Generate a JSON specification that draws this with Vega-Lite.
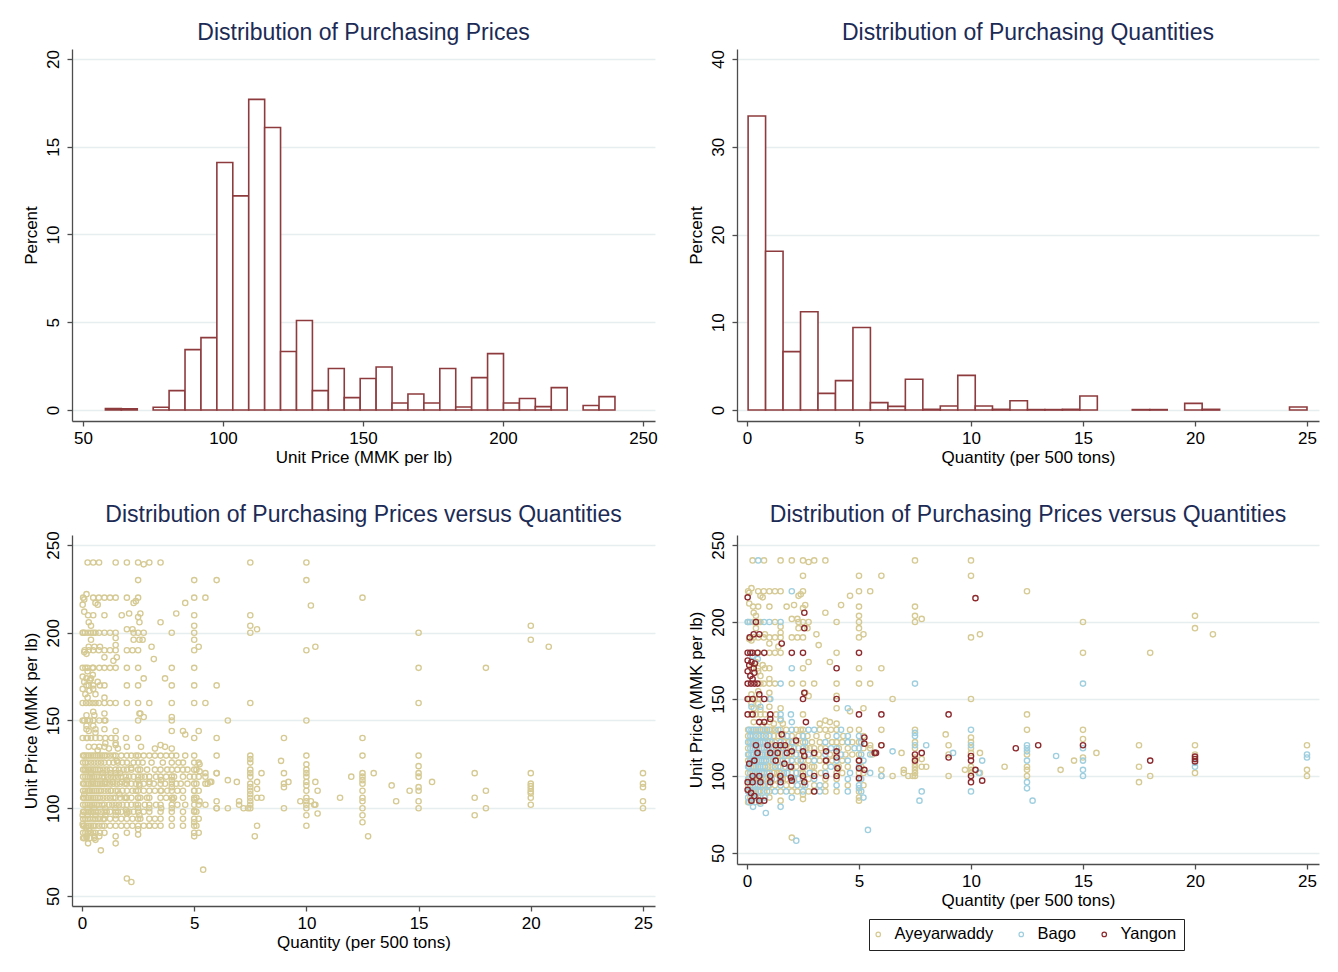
{
"$schema":"https://vega.github.io/schema/vega-lite/v6.json",
"background":"white",
"padding":{"left":22,"top":22,"right":5,"bottom":5},
"datasets":{
"hp":[
{"lo":58.0,"hi":63.69,"pct":0.08},{"lo":63.69,"hi":69.38,"pct":0.06},{"lo":75.06,"hi":80.75,"pct":0.15},{"lo":80.75,"hi":86.44,"pct":1.1},{"lo":86.44,"hi":92.13,"pct":3.44},{"lo":92.13,"hi":97.81,"pct":4.12},{"lo":97.81,"hi":103.5,"pct":14.1},{"lo":103.5,"hi":109.19,"pct":12.2},{"lo":109.19,"hi":114.88,"pct":17.7},{"lo":114.88,"hi":120.56,"pct":16.1},{"lo":120.56,"hi":126.25,"pct":3.33},{"lo":126.25,"hi":131.94,"pct":5.1},{"lo":131.94,"hi":137.63,"pct":1.1},{"lo":137.63,"hi":143.31,"pct":2.36},{"lo":143.31,"hi":149.0,"pct":0.7},{"lo":149.0,"hi":154.69,"pct":1.79},{"lo":154.69,"hi":160.38,"pct":2.45},{"lo":160.38,"hi":166.06,"pct":0.4},{"lo":166.06,"hi":171.75,"pct":0.91},{"lo":171.75,"hi":177.44,"pct":0.4},{"lo":177.44,"hi":183.13,"pct":2.36},{"lo":183.13,"hi":188.81,"pct":0.17},{"lo":188.81,"hi":194.5,"pct":1.84},{"lo":194.5,"hi":200.19,"pct":3.21},{"lo":200.19,"hi":205.88,"pct":0.4},{"lo":205.88,"hi":211.56,"pct":0.65},{"lo":211.56,"hi":217.25,"pct":0.19},{"lo":217.25,"hi":222.94,"pct":1.27},{"lo":228.63,"hi":234.31,"pct":0.25},{"lo":234.31,"hi":240.0,"pct":0.76}
],
"hq":[
{"lo":0.05,"hi":0.83,"pct":33.5},{"lo":0.83,"hi":1.61,"pct":18.1},{"lo":1.61,"hi":2.39,"pct":6.65},{"lo":2.39,"hi":3.17,"pct":11.2},{"lo":3.17,"hi":3.95,"pct":1.9},{"lo":3.95,"hi":4.73,"pct":3.35},{"lo":4.73,"hi":5.51,"pct":9.4},{"lo":5.51,"hi":6.29,"pct":0.84},{"lo":6.29,"hi":7.07,"pct":0.42},{"lo":7.07,"hi":7.85,"pct":3.5},{"lo":7.85,"hi":8.63,"pct":0.08},{"lo":8.63,"hi":9.41,"pct":0.46},{"lo":9.41,"hi":10.19,"pct":3.95},{"lo":10.19,"hi":10.96,"pct":0.46},{"lo":10.96,"hi":11.74,"pct":0.08},{"lo":11.74,"hi":12.52,"pct":1.06},{"lo":12.52,"hi":13.3,"pct":0.05},{"lo":13.3,"hi":14.08,"pct":0.05},{"lo":14.08,"hi":14.86,"pct":0.08},{"lo":14.86,"hi":15.64,"pct":1.6},{"lo":17.2,"hi":17.98,"pct":0.05},{"lo":17.98,"hi":18.76,"pct":0.05},{"lo":19.54,"hi":20.32,"pct":0.76},{"lo":20.32,"hi":21.1,"pct":0.08},{"lo":24.22,"hi":25.0,"pct":0.34}
],
"pts":[
{"q":0.25,"p":240,"r":"Ayeyarwaddy"},{"q":0.76,"p":240,"r":"Ayeyarwaddy"},{"q":1.5,"p":240,"r":"Ayeyarwaddy"},{"q":2.0,"p":240,"r":"Ayeyarwaddy"},{"q":2.5,"p":240,"r":"Ayeyarwaddy"},{"q":2.75,"p":239,"r":"Ayeyarwaddy"},{"q":3.0,"p":240,"r":"Ayeyarwaddy"},{"q":3.5,"p":240,"r":"Ayeyarwaddy"},{"q":7.5,"p":240,"r":"Ayeyarwaddy"},{"q":10,"p":240,"r":"Ayeyarwaddy"},
{"q":2.5,"p":230,"r":"Ayeyarwaddy"},{"q":5,"p":230,"r":"Ayeyarwaddy"},{"q":6,"p":230,"r":"Ayeyarwaddy"},{"q":10,"p":230,"r":"Ayeyarwaddy"},
{"q":0.05,"p":220,"r":"Ayeyarwaddy"},{"q":0.2,"p":222,"r":"Ayeyarwaddy"},{"q":0.1,"p":219,"r":"Ayeyarwaddy"},{"q":0.5,"p":220,"r":"Ayeyarwaddy"},{"q":0.75,"p":220,"r":"Ayeyarwaddy"},{"q":1.0,"p":220,"r":"Ayeyarwaddy"},{"q":1.25,"p":220,"r":"Ayeyarwaddy"},{"q":1.5,"p":220,"r":"Ayeyarwaddy"},{"q":2.5,"p":220,"r":"Ayeyarwaddy"},{"q":2.4,"p":218,"r":"Ayeyarwaddy"},{"q":2.3,"p":217,"r":"Ayeyarwaddy"},{"q":0.6,"p":217,"r":"Ayeyarwaddy"},{"q":0.7,"p":216,"r":"Ayeyarwaddy"},{"q":4.6,"p":217,"r":"Ayeyarwaddy"},{"q":5,"p":220,"r":"Ayeyarwaddy"},{"q":5.5,"p":220,"r":"Ayeyarwaddy"},{"q":12.5,"p":220,"r":"Ayeyarwaddy"},
{"q":0.1,"p":212,"r":"Ayeyarwaddy"},{"q":0.27,"p":210,"r":"Ayeyarwaddy"},{"q":0.5,"p":210,"r":"Ayeyarwaddy"},{"q":1.0,"p":210,"r":"Ayeyarwaddy"},{"q":1.77,"p":210,"r":"Ayeyarwaddy"},{"q":2.1,"p":211,"r":"Ayeyarwaddy"},{"q":2.6,"p":211,"r":"Ayeyarwaddy"},{"q":2.5,"p":209,"r":"Ayeyarwaddy"},{"q":4.2,"p":211,"r":"Ayeyarwaddy"},{"q":5,"p":210,"r":"Ayeyarwaddy"},{"q":7.5,"p":210,"r":"Ayeyarwaddy"},
{"q":0.3,"p":206,"r":"Ayeyarwaddy"},{"q":3.5,"p":206,"r":"Ayeyarwaddy"},{"q":0.4,"p":204,"r":"Ayeyarwaddy"},{"q":5,"p":204,"r":"Ayeyarwaddy"},{"q":7.5,"p":204,"r":"Ayeyarwaddy"},{"q":20,"p":204,"r":"Ayeyarwaddy"},{"q":2.25,"p":202,"r":"Ayeyarwaddy"},{"q":2.0,"p":202,"r":"Ayeyarwaddy"},{"q":7.8,"p":202,"r":"Ayeyarwaddy"},
{"q":0.05,"p":200,"r":"Ayeyarwaddy"},{"q":0.27,"p":200,"r":"Ayeyarwaddy"},{"q":0.5,"p":200,"r":"Ayeyarwaddy"},{"q":0.6,"p":200,"r":"Ayeyarwaddy"},{"q":1.25,"p":200,"r":"Ayeyarwaddy"},{"q":2.3,"p":200,"r":"Ayeyarwaddy"},{"q":2.5,"p":200,"r":"Ayeyarwaddy"},{"q":2.75,"p":200,"r":"Ayeyarwaddy"},{"q":4.0,"p":200,"r":"Ayeyarwaddy"},{"q":5,"p":200,"r":"Ayeyarwaddy"},{"q":7.5,"p":200,"r":"Ayeyarwaddy"},{"q":15,"p":200,"r":"Ayeyarwaddy"},
{"q":0.4,"p":196,"r":"Ayeyarwaddy"},{"q":1.5,"p":197,"r":"Ayeyarwaddy"},{"q":2.3,"p":196,"r":"Ayeyarwaddy"},{"q":2.7,"p":196,"r":"Ayeyarwaddy"},{"q":5,"p":196,"r":"Ayeyarwaddy"},{"q":20,"p":196,"r":"Ayeyarwaddy"},
{"q":0.8,"p":192,"r":"Ayeyarwaddy"},{"q":1.5,"p":193,"r":"Ayeyarwaddy"},{"q":3.1,"p":192,"r":"Ayeyarwaddy"},{"q":5.2,"p":192,"r":"Ayeyarwaddy"},{"q":10.4,"p":192,"r":"Ayeyarwaddy"},{"q":20.8,"p":192,"r":"Ayeyarwaddy"},
{"q":0.1,"p":189,"r":"Ayeyarwaddy"},{"q":0.2,"p":188,"r":"Ayeyarwaddy"},{"q":0.3,"p":190,"r":"Ayeyarwaddy"},{"q":0.5,"p":190,"r":"Ayeyarwaddy"},{"q":0.75,"p":190,"r":"Ayeyarwaddy"},{"q":1.0,"p":190,"r":"Ayeyarwaddy"},{"q":1.25,"p":190,"r":"Ayeyarwaddy"},{"q":1.5,"p":190,"r":"Ayeyarwaddy"},{"q":2.0,"p":190,"r":"Ayeyarwaddy"},{"q":2.25,"p":190,"r":"Ayeyarwaddy"},{"q":2.5,"p":190,"r":"Ayeyarwaddy"},{"q":5,"p":190,"r":"Ayeyarwaddy"},{"q":10,"p":190,"r":"Ayeyarwaddy"},
{"q":1.0,"p":186,"r":"Ayeyarwaddy"},{"q":1.4,"p":184,"r":"Ayeyarwaddy"},{"q":3.2,"p":185,"r":"Ayeyarwaddy"},
{"q":0.5,"p":180,"r":"Ayeyarwaddy"},{"q":1.0,"p":180,"r":"Ayeyarwaddy"},{"q":1.25,"p":180,"r":"Ayeyarwaddy"},{"q":1.5,"p":180,"r":"Ayeyarwaddy"},{"q":4.0,"p":180,"r":"Ayeyarwaddy"},{"q":15,"p":180,"r":"Ayeyarwaddy"},{"q":18,"p":180,"r":"Ayeyarwaddy"},
{"q":0.4,"p":174,"r":"Ayeyarwaddy"},{"q":0.7,"p":172,"r":"Ayeyarwaddy"},{"q":2.75,"p":174,"r":"Ayeyarwaddy"},{"q":3.7,"p":174,"r":"Ayeyarwaddy"},
{"q":0.2,"p":170,"r":"Ayeyarwaddy"},{"q":0.5,"p":170,"r":"Ayeyarwaddy"},{"q":0.8,"p":170,"r":"Ayeyarwaddy"},{"q":1.0,"p":170,"r":"Ayeyarwaddy"},{"q":2.5,"p":170,"r":"Ayeyarwaddy"},{"q":5,"p":170,"r":"Ayeyarwaddy"},{"q":6,"p":170,"r":"Ayeyarwaddy"},
{"q":0.5,"p":168,"r":"Ayeyarwaddy"},{"q":0.6,"p":165,"r":"Ayeyarwaddy"},{"q":1.0,"p":163,"r":"Ayeyarwaddy"},
{"q":0.6,"p":160,"r":"Ayeyarwaddy"},{"q":0.75,"p":160,"r":"Ayeyarwaddy"},{"q":1.0,"p":160,"r":"Ayeyarwaddy"},{"q":1.25,"p":160,"r":"Ayeyarwaddy"},{"q":2.0,"p":160,"r":"Ayeyarwaddy"},{"q":2.5,"p":160,"r":"Ayeyarwaddy"},{"q":3.0,"p":160,"r":"Ayeyarwaddy"},{"q":4.0,"p":160,"r":"Ayeyarwaddy"},{"q":5,"p":160,"r":"Ayeyarwaddy"},{"q":5.5,"p":160,"r":"Ayeyarwaddy"},
{"q":0.2,"p":153,"r":"Ayeyarwaddy"},{"q":0.5,"p":155,"r":"Ayeyarwaddy"},{"q":1.0,"p":154,"r":"Ayeyarwaddy"},{"q":2.6,"p":154,"r":"Ayeyarwaddy"},{"q":2.75,"p":152,"r":"Ayeyarwaddy"},{"q":4.0,"p":152,"r":"Ayeyarwaddy"},
{"q":0.1,"p":150,"r":"Ayeyarwaddy"},{"q":0.35,"p":150,"r":"Ayeyarwaddy"},{"q":0.5,"p":150,"r":"Ayeyarwaddy"},{"q":1.0,"p":150,"r":"Ayeyarwaddy"},{"q":6.5,"p":150,"r":"Ayeyarwaddy"},{"q":10,"p":150,"r":"Ayeyarwaddy"},{"q":0.2,"p":147,"r":"Ayeyarwaddy"},{"q":0.5,"p":147,"r":"Ayeyarwaddy"},
{"q":0.3,"p":144,"r":"Ayeyarwaddy"},{"q":0.6,"p":143,"r":"Ayeyarwaddy"},{"q":1.0,"p":145,"r":"Ayeyarwaddy"},{"q":1.5,"p":144,"r":"Ayeyarwaddy"},{"q":4.0,"p":144,"r":"Ayeyarwaddy"},{"q":4.6,"p":142,"r":"Ayeyarwaddy"},{"q":5.2,"p":144,"r":"Ayeyarwaddy"},
{"q":0.2,"p":140,"r":"Ayeyarwaddy"},{"q":0.4,"p":140,"r":"Ayeyarwaddy"},{"q":0.6,"p":140,"r":"Ayeyarwaddy"},{"q":0.8,"p":140,"r":"Ayeyarwaddy"},{"q":1.3,"p":140,"r":"Ayeyarwaddy"},{"q":2.5,"p":140,"r":"Ayeyarwaddy"},{"q":12.5,"p":140,"r":"Ayeyarwaddy"},
{"q":0.3,"p":135,"r":"Ayeyarwaddy"},{"q":0.7,"p":133,"r":"Ayeyarwaddy"},{"q":1.0,"p":135,"r":"Ayeyarwaddy"},{"q":1.2,"p":134,"r":"Ayeyarwaddy"},{"q":1.6,"p":134,"r":"Ayeyarwaddy"},{"q":1.5,"p":136,"r":"Ayeyarwaddy"},{"q":3.25,"p":134,"r":"Ayeyarwaddy"},{"q":3.5,"p":136,"r":"Ayeyarwaddy"},{"q":3.7,"p":135,"r":"Ayeyarwaddy"},{"q":4.0,"p":134,"r":"Ayeyarwaddy"},
{"q":5.5,"p":120,"r":"Ayeyarwaddy"},{"q":5.6,"p":114,"r":"Ayeyarwaddy"},{"q":6,"p":130,"r":"Ayeyarwaddy"},{"q":6,"p":120,"r":"Ayeyarwaddy"},{"q":6,"p":104,"r":"Ayeyarwaddy"},{"q":6,"p":100,"r":"Ayeyarwaddy"},{"q":6.5,"p":100,"r":"Ayeyarwaddy"},{"q":6.9,"p":115,"r":"Ayeyarwaddy"},{"q":7,"p":104,"r":"Ayeyarwaddy"},{"q":7,"p":102,"r":"Ayeyarwaddy"},{"q":7.2,"p":100,"r":"Ayeyarwaddy"},{"q":7.4,"p":100,"r":"Ayeyarwaddy"},{"q":7.5,"p":130,"r":"Ayeyarwaddy"},{"q":7.5,"p":122,"r":"Ayeyarwaddy"},{"q":7.5,"p":118,"r":"Ayeyarwaddy"},{"q":7.5,"p":112,"r":"Ayeyarwaddy"},{"q":7.5,"p":108,"r":"Ayeyarwaddy"},{"q":7.5,"p":106,"r":"Ayeyarwaddy"},{"q":7.5,"p":104,"r":"Ayeyarwaddy"},{"q":7.5,"p":102,"r":"Ayeyarwaddy"},{"q":7.5,"p":100,"r":"Ayeyarwaddy"},{"q":7.8,"p":106,"r":"Ayeyarwaddy"},{"q":8.0,"p":106,"r":"Ayeyarwaddy"},{"q":7.8,"p":111,"r":"Ayeyarwaddy"},{"q":8.87,"p":127,"r":"Ayeyarwaddy"},{"q":9,"p":120,"r":"Ayeyarwaddy"},{"q":9,"p":114,"r":"Ayeyarwaddy"},{"q":9,"p":100,"r":"Ayeyarwaddy"},{"q":9.73,"p":104,"r":"Ayeyarwaddy"},{"q":10,"p":125,"r":"Ayeyarwaddy"},{"q":10,"p":122,"r":"Ayeyarwaddy"},{"q":10,"p":118,"r":"Ayeyarwaddy"},{"q":10,"p":115,"r":"Ayeyarwaddy"},{"q":10,"p":106,"r":"Ayeyarwaddy"},{"q":10,"p":104,"r":"Ayeyarwaddy"},{"q":10,"p":102,"r":"Ayeyarwaddy"},{"q":10.4,"p":115,"r":"Ayeyarwaddy"},{"q":10.4,"p":102,"r":"Ayeyarwaddy"},{"q":11.5,"p":106,"r":"Ayeyarwaddy"},{"q":12.5,"p":130,"r":"Ayeyarwaddy"},{"q":12.5,"p":114,"r":"Ayeyarwaddy"},{"q":12.5,"p":106,"r":"Ayeyarwaddy"},{"q":12.5,"p":104,"r":"Ayeyarwaddy"},{"q":12.5,"p":100,"r":"Ayeyarwaddy"},{"q":14,"p":104,"r":"Ayeyarwaddy"},{"q":14.6,"p":110,"r":"Ayeyarwaddy"},{"q":15,"p":130,"r":"Ayeyarwaddy"},{"q":15,"p":124,"r":"Ayeyarwaddy"},{"q":15,"p":112,"r":"Ayeyarwaddy"},{"q":15.6,"p":115,"r":"Ayeyarwaddy"},{"q":17.5,"p":120,"r":"Ayeyarwaddy"},{"q":17.5,"p":106,"r":"Ayeyarwaddy"},{"q":17.5,"p":96,"r":"Ayeyarwaddy"},{"q":18,"p":100,"r":"Ayeyarwaddy"},{"q":20,"p":120,"r":"Ayeyarwaddy"},{"q":20,"p":114,"r":"Ayeyarwaddy"},{"q":20,"p":102,"r":"Ayeyarwaddy"},{"q":25,"p":120,"r":"Ayeyarwaddy"},{"q":25,"p":104,"r":"Ayeyarwaddy"},{"q":25,"p":100,"r":"Ayeyarwaddy"},
{"q":2.0,"p":60,"r":"Ayeyarwaddy"},{"q":1.5,"p":84,"r":"Ayeyarwaddy"},{"q":2.5,"p":85,"r":"Ayeyarwaddy"},{"q":2.5,"p":88,"r":"Ayeyarwaddy"},{"q":4.0,"p":90,"r":"Ayeyarwaddy"},{"q":5.0,"p":84,"r":"Ayeyarwaddy"},
{"q":0.5,"p":240,"r":"Bago"},{"q":2.0,"p":220,"r":"Bago"},{"q":0.03,"p":200,"r":"Bago"},{"q":0.13,"p":200,"r":"Bago"},{"q":0.76,"p":200,"r":"Bago"},{"q":1.0,"p":200,"r":"Bago"},{"q":1.5,"p":200,"r":"Bago"},{"q":0.25,"p":178,"r":"Bago"},{"q":0.48,"p":176,"r":"Bago"},{"q":2.0,"p":170,"r":"Bago"},{"q":1.5,"p":160,"r":"Bago"},{"q":1.04,"p":150,"r":"Bago"},{"q":0.2,"p":145,"r":"Bago"},{"q":0.6,"p":145,"r":"Bago"},{"q":1.5,"p":140,"r":"Bago"},{"q":1.96,"p":140,"r":"Bago"},{"q":1.5,"p":137,"r":"Bago"},{"q":2.0,"p":135,"r":"Bago"},{"q":4.5,"p":144,"r":"Bago"},
{"q":5.5,"p":114,"r":"Bago"},{"q":5.5,"p":102,"r":"Bago"},{"q":6.0,"p":100,"r":"Bago"},{"q":6.5,"p":116,"r":"Bago"},{"q":7.5,"p":128,"r":"Bago"},{"q":7.5,"p":126,"r":"Bago"},{"q":7.5,"p":120,"r":"Bago"},{"q":7.5,"p":160,"r":"Bago"},{"q":8.0,"p":120,"r":"Bago"},{"q":7.8,"p":90,"r":"Bago"},{"q":7.7,"p":84,"r":"Bago"},{"q":9.2,"p":115,"r":"Bago"},{"q":10,"p":130,"r":"Bago"},{"q":10,"p":120,"r":"Bago"},{"q":10,"p":90,"r":"Bago"},{"q":10.5,"p":110,"r":"Bago"},{"q":10.35,"p":102,"r":"Bago"},{"q":12.5,"p":120,"r":"Bago"},{"q":12.5,"p":118,"r":"Bago"},{"q":12.5,"p":116,"r":"Bago"},{"q":12.5,"p":110,"r":"Bago"},{"q":12.5,"p":96,"r":"Bago"},{"q":12.5,"p":92,"r":"Bago"},{"q":12.75,"p":84,"r":"Bago"},{"q":13.8,"p":113,"r":"Bago"},{"q":15,"p":160,"r":"Bago"},{"q":15,"p":118,"r":"Bago"},{"q":15,"p":110,"r":"Bago"},{"q":15,"p":104,"r":"Bago"},{"q":15,"p":100,"r":"Bago"},{"q":20,"p":108.5,"r":"Bago"},{"q":20,"p":106,"r":"Bago"},{"q":25,"p":114,"r":"Bago"},{"q":25,"p":112,"r":"Bago"},{"q":5.4,"p":65,"r":"Bago"},{"q":2.2,"p":58,"r":"Bago"},{"q":5.0,"p":92,"r":"Bago"},{"q":5.2,"p":86,"r":"Bago"},{"q":0.84,"p":76,"r":"Bago"},{"q":0.27,"p":80,"r":"Bago"},{"q":1.5,"p":80,"r":"Bago"},{"q":0.6,"p":82,"r":"Bago"},{"q":0.1,"p":83,"r":"Bago"},
{"q":0.05,"p":130,"r":"Ayeyarwaddy"},{"q":0.1,"p":130,"r":"Bago"},{"q":0.2,"p":130,"r":"Bago"},{"q":0.3,"p":130,"r":"Ayeyarwaddy"},{"q":0.4,"p":130,"r":"Bago"},{"q":0.5,"p":130,"r":"Ayeyarwaddy"},{"q":0.6,"p":130,"r":"Bago"},{"q":0.7,"p":130,"r":"Ayeyarwaddy"},{"q":0.8,"p":130,"r":"Ayeyarwaddy"},{"q":0.9,"p":130,"r":"Bago"},{"q":1.0,"p":130,"r":"Ayeyarwaddy"},{"q":1.1,"p":130,"r":"Ayeyarwaddy"},{"q":1.25,"p":130,"r":"Ayeyarwaddy"},{"q":1.4,"p":130,"r":"Bago"},{"q":1.5,"p":130,"r":"Ayeyarwaddy"},{"q":1.75,"p":130,"r":"Ayeyarwaddy"},{"q":2.0,"p":130,"r":"Bago"},{"q":2.2,"p":130,"r":"Ayeyarwaddy"},{"q":2.4,"p":130,"r":"Ayeyarwaddy"},{"q":2.5,"p":130,"r":"Ayeyarwaddy"},{"q":2.75,"p":130,"r":"Bago"},{"q":3.0,"p":130,"r":"Bago"},{"q":3.25,"p":130,"r":"Ayeyarwaddy"},{"q":3.5,"p":130,"r":"Ayeyarwaddy"},{"q":3.75,"p":130,"r":"Ayeyarwaddy"},{"q":4.0,"p":130,"r":"Ayeyarwaddy"},{"q":4.2,"p":130,"r":"Bago"},{"q":4.6,"p":130,"r":"Ayeyarwaddy"},{"q":5.0,"p":130,"r":"Ayeyarwaddy"},
{"q":0.05,"p":126,"r":"Ayeyarwaddy"},{"q":0.15,"p":126,"r":"Bago"},{"q":0.25,"p":126,"r":"Bago"},{"q":0.4,"p":126,"r":"Ayeyarwaddy"},{"q":0.55,"p":126,"r":"Bago"},{"q":0.7,"p":126,"r":"Bago"},{"q":0.85,"p":126,"r":"Ayeyarwaddy"},{"q":1.0,"p":126,"r":"Bago"},{"q":1.2,"p":126,"r":"Ayeyarwaddy"},{"q":1.4,"p":126,"r":"Ayeyarwaddy"},{"q":1.6,"p":126,"r":"Ayeyarwaddy"},{"q":1.8,"p":126,"r":"Bago"},{"q":2.0,"p":126,"r":"Ayeyarwaddy"},{"q":2.3,"p":126,"r":"Ayeyarwaddy"},{"q":2.5,"p":126,"r":"Bago"},{"q":2.7,"p":126,"r":"Ayeyarwaddy"},{"q":3.1,"p":126,"r":"Ayeyarwaddy"},{"q":3.6,"p":126,"r":"Ayeyarwaddy"},{"q":4.0,"p":126,"r":"Bago"},{"q":4.3,"p":126,"r":"Ayeyarwaddy"},{"q":4.5,"p":126,"r":"Bago"},{"q":5.0,"p":126,"r":"Bago"},{"q":5.2,"p":126,"r":"Ayeyarwaddy"},
{"q":0.05,"p":122,"r":"Bago"},{"q":0.12,"p":122,"r":"Ayeyarwaddy"},{"q":0.2,"p":122,"r":"Bago"},{"q":0.3,"p":122,"r":"Bago"},{"q":0.4,"p":122,"r":"Bago"},{"q":0.5,"p":122,"r":"Bago"},{"q":0.6,"p":122,"r":"Ayeyarwaddy"},{"q":0.7,"p":122,"r":"Bago"},{"q":0.8,"p":122,"r":"Bago"},{"q":0.95,"p":122,"r":"Ayeyarwaddy"},{"q":1.1,"p":122,"r":"Bago"},{"q":1.25,"p":122,"r":"Ayeyarwaddy"},{"q":1.5,"p":122,"r":"Bago"},{"q":1.65,"p":122,"r":"Ayeyarwaddy"},{"q":1.85,"p":122,"r":"Ayeyarwaddy"},{"q":2.0,"p":122,"r":"Bago"},{"q":2.2,"p":122,"r":"Ayeyarwaddy"},{"q":2.5,"p":122,"r":"Ayeyarwaddy"},{"q":2.6,"p":122,"r":"Bago"},{"q":2.9,"p":122,"r":"Ayeyarwaddy"},{"q":3.25,"p":122,"r":"Ayeyarwaddy"},{"q":3.5,"p":122,"r":"Bago"},{"q":3.8,"p":122,"r":"Ayeyarwaddy"},{"q":4.0,"p":122,"r":"Ayeyarwaddy"},{"q":4.25,"p":122,"r":"Ayeyarwaddy"},{"q":4.5,"p":122,"r":"Bago"},{"q":4.7,"p":122,"r":"Ayeyarwaddy"},{"q":5.0,"p":122,"r":"Ayeyarwaddy"},{"q":5.1,"p":122,"r":"Bago"},
{"q":0.05,"p":118,"r":"Ayeyarwaddy"},{"q":0.15,"p":118,"r":"Bago"},{"q":0.25,"p":118,"r":"Bago"},{"q":0.35,"p":118,"r":"Bago"},{"q":0.45,"p":118,"r":"Ayeyarwaddy"},{"q":0.55,"p":118,"r":"Bago"},{"q":0.65,"p":118,"r":"Bago"},{"q":0.75,"p":118,"r":"Ayeyarwaddy"},{"q":0.9,"p":118,"r":"Bago"},{"q":1.0,"p":118,"r":"Bago"},{"q":1.15,"p":118,"r":"Ayeyarwaddy"},{"q":1.3,"p":118,"r":"Bago"},{"q":1.45,"p":118,"r":"Ayeyarwaddy"},{"q":1.6,"p":118,"r":"Bago"},{"q":1.75,"p":118,"r":"Ayeyarwaddy"},{"q":1.95,"p":118,"r":"Ayeyarwaddy"},{"q":2.1,"p":118,"r":"Bago"},{"q":2.3,"p":118,"r":"Ayeyarwaddy"},{"q":2.5,"p":118,"r":"Bago"},{"q":2.65,"p":118,"r":"Ayeyarwaddy"},{"q":2.8,"p":118,"r":"Ayeyarwaddy"},{"q":3.0,"p":118,"r":"Ayeyarwaddy"},{"q":3.3,"p":118,"r":"Ayeyarwaddy"},{"q":3.5,"p":118,"r":"Ayeyarwaddy"},{"q":3.75,"p":118,"r":"Bago"},{"q":4.0,"p":118,"r":"Bago"},{"q":4.1,"p":118,"r":"Ayeyarwaddy"},{"q":4.5,"p":118,"r":"Ayeyarwaddy"},{"q":4.8,"p":118,"r":"Bago"},{"q":5.0,"p":118,"r":"Bago"},{"q":5.2,"p":118,"r":"Ayeyarwaddy"},{"q":5.5,"p":118,"r":"Ayeyarwaddy"},
{"q":0.05,"p":114,"r":"Bago"},{"q":0.1,"p":114,"r":"Ayeyarwaddy"},{"q":0.2,"p":114,"r":"Bago"},{"q":0.3,"p":114,"r":"Bago"},{"q":0.4,"p":114,"r":"Bago"},{"q":0.5,"p":114,"r":"Ayeyarwaddy"},{"q":0.6,"p":114,"r":"Bago"},{"q":0.7,"p":114,"r":"Bago"},{"q":0.8,"p":114,"r":"Ayeyarwaddy"},{"q":0.9,"p":114,"r":"Bago"},{"q":1.0,"p":114,"r":"Ayeyarwaddy"},{"q":1.1,"p":114,"r":"Bago"},{"q":1.25,"p":114,"r":"Bago"},{"q":1.4,"p":114,"r":"Ayeyarwaddy"},{"q":1.55,"p":114,"r":"Ayeyarwaddy"},{"q":1.7,"p":114,"r":"Bago"},{"q":1.9,"p":114,"r":"Ayeyarwaddy"},{"q":2.0,"p":114,"r":"Ayeyarwaddy"},{"q":2.2,"p":114,"r":"Bago"},{"q":2.4,"p":114,"r":"Ayeyarwaddy"},{"q":2.55,"p":114,"r":"Ayeyarwaddy"},{"q":2.75,"p":114,"r":"Bago"},{"q":3.0,"p":114,"r":"Ayeyarwaddy"},{"q":3.2,"p":114,"r":"Ayeyarwaddy"},{"q":3.5,"p":114,"r":"Bago"},{"q":3.7,"p":114,"r":"Ayeyarwaddy"},{"q":4.0,"p":114,"r":"Ayeyarwaddy"},{"q":4.2,"p":114,"r":"Bago"},{"q":4.4,"p":114,"r":"Ayeyarwaddy"},{"q":4.7,"p":114,"r":"Ayeyarwaddy"},{"q":5.0,"p":114,"r":"Ayeyarwaddy"},{"q":5.1,"p":114,"r":"Bago"},
{"q":0.05,"p":110,"r":"Ayeyarwaddy"},{"q":0.15,"p":110,"r":"Bago"},{"q":0.25,"p":110,"r":"Bago"},{"q":0.35,"p":110,"r":"Ayeyarwaddy"},{"q":0.45,"p":110,"r":"Bago"},{"q":0.55,"p":110,"r":"Bago"},{"q":0.65,"p":110,"r":"Ayeyarwaddy"},{"q":0.75,"p":110,"r":"Bago"},{"q":0.85,"p":110,"r":"Bago"},{"q":1.0,"p":110,"r":"Ayeyarwaddy"},{"q":1.15,"p":110,"r":"Bago"},{"q":1.3,"p":110,"r":"Ayeyarwaddy"},{"q":1.5,"p":110,"r":"Ayeyarwaddy"},{"q":1.6,"p":110,"r":"Bago"},{"q":1.8,"p":110,"r":"Ayeyarwaddy"},{"q":2.0,"p":110,"r":"Bago"},{"q":2.25,"p":110,"r":"Ayeyarwaddy"},{"q":2.4,"p":110,"r":"Bago"},{"q":2.5,"p":110,"r":"Ayeyarwaddy"},{"q":2.75,"p":110,"r":"Ayeyarwaddy"},{"q":3.0,"p":110,"r":"Bago"},{"q":3.25,"p":110,"r":"Ayeyarwaddy"},{"q":3.5,"p":110,"r":"Ayeyarwaddy"},{"q":3.8,"p":110,"r":"Ayeyarwaddy"},{"q":4.0,"p":110,"r":"Bago"},{"q":4.25,"p":110,"r":"Ayeyarwaddy"},{"q":4.5,"p":110,"r":"Bago"},{"q":5.0,"p":110,"r":"Ayeyarwaddy"},{"q":5.2,"p":110,"r":"Bago"},
{"q":0.05,"p":106,"r":"Bago"},{"q":0.1,"p":106,"r":"Bago"},{"q":0.2,"p":106,"r":"Ayeyarwaddy"},{"q":0.3,"p":106,"r":"Bago"},{"q":0.4,"p":106,"r":"Ayeyarwaddy"},{"q":0.5,"p":106,"r":"Bago"},{"q":0.6,"p":106,"r":"Bago"},{"q":0.7,"p":106,"r":"Ayeyarwaddy"},{"q":0.8,"p":106,"r":"Bago"},{"q":0.95,"p":106,"r":"Ayeyarwaddy"},{"q":1.1,"p":106,"r":"Ayeyarwaddy"},{"q":1.25,"p":106,"r":"Bago"},{"q":1.4,"p":106,"r":"Ayeyarwaddy"},{"q":1.5,"p":106,"r":"Bago"},{"q":1.7,"p":106,"r":"Ayeyarwaddy"},{"q":1.9,"p":106,"r":"Bago"},{"q":2.0,"p":106,"r":"Ayeyarwaddy"},{"q":2.2,"p":106,"r":"Ayeyarwaddy"},{"q":2.5,"p":106,"r":"Bago"},{"q":2.6,"p":106,"r":"Ayeyarwaddy"},{"q":2.9,"p":106,"r":"Ayeyarwaddy"},{"q":3.0,"p":106,"r":"Ayeyarwaddy"},{"q":3.5,"p":106,"r":"Ayeyarwaddy"},{"q":3.75,"p":106,"r":"Bago"},{"q":4.0,"p":106,"r":"Ayeyarwaddy"},{"q":4.1,"p":106,"r":"Ayeyarwaddy"},{"q":4.5,"p":106,"r":"Ayeyarwaddy"},{"q":5.0,"p":106,"r":"Bago"},{"q":5.1,"p":106,"r":"Ayeyarwaddy"},
{"q":0.05,"p":102,"r":"Ayeyarwaddy"},{"q":0.15,"p":102,"r":"Bago"},{"q":0.25,"p":102,"r":"Ayeyarwaddy"},{"q":0.35,"p":102,"r":"Bago"},{"q":0.45,"p":102,"r":"Bago"},{"q":0.55,"p":102,"r":"Ayeyarwaddy"},{"q":0.65,"p":102,"r":"Bago"},{"q":0.75,"p":102,"r":"Bago"},{"q":0.9,"p":102,"r":"Ayeyarwaddy"},{"q":1.0,"p":102,"r":"Bago"},{"q":1.2,"p":102,"r":"Ayeyarwaddy"},{"q":1.35,"p":102,"r":"Ayeyarwaddy"},{"q":1.5,"p":102,"r":"Ayeyarwaddy"},{"q":1.65,"p":102,"r":"Bago"},{"q":1.8,"p":102,"r":"Bago"},{"q":2.0,"p":102,"r":"Ayeyarwaddy"},{"q":2.2,"p":102,"r":"Bago"},{"q":2.4,"p":102,"r":"Ayeyarwaddy"},{"q":2.5,"p":102,"r":"Ayeyarwaddy"},{"q":2.8,"p":102,"r":"Bago"},{"q":3.0,"p":102,"r":"Ayeyarwaddy"},{"q":3.3,"p":102,"r":"Ayeyarwaddy"},{"q":3.5,"p":102,"r":"Bago"},{"q":4.0,"p":102,"r":"Ayeyarwaddy"},{"q":4.25,"p":102,"r":"Ayeyarwaddy"},{"q":4.6,"p":102,"r":"Bago"},{"q":5.0,"p":102,"r":"Ayeyarwaddy"},{"q":5.2,"p":102,"r":"Ayeyarwaddy"},
{"q":0.05,"p":98,"r":"Bago"},{"q":0.1,"p":98,"r":"Ayeyarwaddy"},{"q":0.2,"p":98,"r":"Bago"},{"q":0.3,"p":98,"r":"Ayeyarwaddy"},{"q":0.4,"p":98,"r":"Bago"},{"q":0.5,"p":98,"r":"Ayeyarwaddy"},{"q":0.6,"p":98,"r":"Ayeyarwaddy"},{"q":0.7,"p":98,"r":"Bago"},{"q":0.85,"p":98,"r":"Ayeyarwaddy"},{"q":1.0,"p":98,"r":"Ayeyarwaddy"},{"q":1.1,"p":98,"r":"Bago"},{"q":1.25,"p":98,"r":"Ayeyarwaddy"},{"q":1.5,"p":98,"r":"Bago"},{"q":1.6,"p":98,"r":"Ayeyarwaddy"},{"q":1.75,"p":98,"r":"Ayeyarwaddy"},{"q":2.0,"p":98,"r":"Bago"},{"q":2.1,"p":98,"r":"Ayeyarwaddy"},{"q":2.3,"p":98,"r":"Bago"},{"q":2.5,"p":98,"r":"Ayeyarwaddy"},{"q":2.75,"p":98,"r":"Ayeyarwaddy"},{"q":3.0,"p":98,"r":"Bago"},{"q":3.5,"p":98,"r":"Ayeyarwaddy"},{"q":4.0,"p":98,"r":"Ayeyarwaddy"},{"q":4.5,"p":98,"r":"Bago"},{"q":5.0,"p":98,"r":"Ayeyarwaddy"},{"q":5.1,"p":98,"r":"Bago"},
{"q":0.05,"p":94,"r":"Ayeyarwaddy"},{"q":0.15,"p":94,"r":"Bago"},{"q":0.25,"p":94,"r":"Ayeyarwaddy"},{"q":0.35,"p":94,"r":"Bago"},{"q":0.5,"p":94,"r":"Bago"},{"q":0.6,"p":94,"r":"Ayeyarwaddy"},{"q":0.7,"p":94,"r":"Bago"},{"q":0.8,"p":94,"r":"Ayeyarwaddy"},{"q":0.95,"p":94,"r":"Bago"},{"q":1.0,"p":94,"r":"Ayeyarwaddy"},{"q":1.25,"p":94,"r":"Ayeyarwaddy"},{"q":1.5,"p":94,"r":"Bago"},{"q":1.75,"p":94,"r":"Ayeyarwaddy"},{"q":2.0,"p":94,"r":"Ayeyarwaddy"},{"q":2.25,"p":94,"r":"Bago"},{"q":2.5,"p":94,"r":"Ayeyarwaddy"},{"q":2.6,"p":94,"r":"Bago"},{"q":3.0,"p":94,"r":"Ayeyarwaddy"},{"q":3.25,"p":94,"r":"Bago"},{"q":3.5,"p":94,"r":"Ayeyarwaddy"},{"q":4.0,"p":94,"r":"Bago"},{"q":4.5,"p":94,"r":"Ayeyarwaddy"},{"q":5.0,"p":94,"r":"Bago"},{"q":5.2,"p":94,"r":"Ayeyarwaddy"},
{"q":0.05,"p":90,"r":"Bago"},{"q":0.1,"p":90,"r":"Ayeyarwaddy"},{"q":0.2,"p":90,"r":"Bago"},{"q":0.3,"p":90,"r":"Ayeyarwaddy"},{"q":0.4,"p":90,"r":"Bago"},{"q":0.5,"p":90,"r":"Ayeyarwaddy"},{"q":0.6,"p":90,"r":"Bago"},{"q":0.75,"p":90,"r":"Ayeyarwaddy"},{"q":0.9,"p":90,"r":"Bago"},{"q":1.0,"p":90,"r":"Ayeyarwaddy"},{"q":1.25,"p":90,"r":"Bago"},{"q":1.5,"p":90,"r":"Ayeyarwaddy"},{"q":1.75,"p":90,"r":"Bago"},{"q":2.0,"p":90,"r":"Ayeyarwaddy"},{"q":2.25,"p":90,"r":"Ayeyarwaddy"},{"q":2.5,"p":90,"r":"Bago"},{"q":2.75,"p":90,"r":"Ayeyarwaddy"},{"q":3.0,"p":90,"r":"Ayeyarwaddy"},{"q":3.25,"p":90,"r":"Bago"},{"q":3.5,"p":90,"r":"Ayeyarwaddy"},{"q":4.5,"p":90,"r":"Bago"},{"q":5.0,"p":90,"r":"Ayeyarwaddy"},{"q":5.1,"p":90,"r":"Bago"},
{"q":0.05,"p":86,"r":"Bago"},{"q":0.15,"p":86,"r":"Ayeyarwaddy"},{"q":0.25,"p":86,"r":"Bago"},{"q":0.4,"p":86,"r":"Ayeyarwaddy"},{"q":0.5,"p":86,"r":"Bago"},{"q":0.6,"p":86,"r":"Ayeyarwaddy"},{"q":0.8,"p":86,"r":"Bago"},{"q":1.0,"p":86,"r":"Ayeyarwaddy"},{"q":2.0,"p":86,"r":"Bago"},{"q":5.0,"p":86,"r":"Ayeyarwaddy"},
{"q":0.05,"p":83,"r":"Ayeyarwaddy"},{"q":0.2,"p":83,"r":"Ayeyarwaddy"},{"q":0.35,"p":83,"r":"Bago"},{"q":0.55,"p":83,"r":"Ayeyarwaddy"},
{"q":0.03,"p":216,"r":"Yangon"},{"q":10.2,"p":215.5,"r":"Yangon"},{"q":2.56,"p":206,"r":"Yangon"},{"q":0.4,"p":200,"r":"Yangon"},{"q":2.56,"p":196,"r":"Yangon"},{"q":0.12,"p":190,"r":"Yangon"},{"q":0.55,"p":192,"r":"Yangon"},{"q":0.3,"p":192,"r":"Yangon"},{"q":1.55,"p":186,"r":"Yangon"},
{"q":0.03,"p":180,"r":"Yangon"},{"q":0.15,"p":180,"r":"Yangon"},{"q":0.25,"p":180,"r":"Yangon"},{"q":0.47,"p":180,"r":"Yangon"},{"q":0.77,"p":180,"r":"Yangon"},{"q":2.0,"p":180,"r":"Yangon"},{"q":2.5,"p":180,"r":"Yangon"},{"q":5.0,"p":180,"r":"Yangon"},
{"q":0.03,"p":175,"r":"Yangon"},{"q":0.03,"p":168,"r":"Yangon"},{"q":0.1,"p":172,"r":"Yangon"},{"q":0.2,"p":174,"r":"Yangon"},{"q":0.3,"p":170,"r":"Yangon"},{"q":0.35,"p":173,"r":"Yangon"},{"q":0.15,"p":165,"r":"Yangon"},{"q":0.25,"p":163,"r":"Yangon"},{"q":0.33,"p":167,"r":"Yangon"},
{"q":0.03,"p":160,"r":"Yangon"},{"q":0.18,"p":160,"r":"Yangon"},{"q":0.33,"p":160,"r":"Yangon"},{"q":0.47,"p":160,"r":"Yangon"},{"q":0.55,"p":153,"r":"Yangon"},{"q":0.77,"p":150,"r":"Yangon"},{"q":0.03,"p":150,"r":"Yangon"},{"q":0.25,"p":150,"r":"Yangon"},{"q":2.5,"p":150,"r":"Yangon"},{"q":2.56,"p":154,"r":"Yangon"},{"q":4.0,"p":150,"r":"Yangon"},{"q":4.0,"p":170,"r":"Yangon"},
{"q":0.03,"p":140,"r":"Yangon"},{"q":0.25,"p":140,"r":"Yangon"},{"q":1.04,"p":140,"r":"Yangon"},{"q":1.04,"p":137,"r":"Yangon"},{"q":5.0,"p":140,"r":"Yangon"},{"q":6.0,"p":140,"r":"Yangon"},{"q":9.0,"p":140,"r":"Yangon"},
{"q":0.55,"p":135,"r":"Yangon"},{"q":0.77,"p":135,"r":"Yangon"},{"q":2.63,"p":135,"r":"Yangon"},{"q":1.55,"p":127,"r":"Yangon"},{"q":2.19,"p":123,"r":"Yangon"},{"q":5.24,"p":125,"r":"Yangon"},{"q":5.24,"p":121,"r":"Yangon"},{"q":6.0,"p":120,"r":"Yangon"},{"q":5.76,"p":115,"r":"Yangon"},
{"q":0.4,"p":120,"r":"Yangon"},{"q":0.47,"p":115,"r":"Yangon"},{"q":0.92,"p":120,"r":"Yangon"},{"q":1.28,"p":120,"r":"Yangon"},{"q":1.49,"p":120,"r":"Yangon"},{"q":1.7,"p":120,"r":"Yangon"},{"q":1.04,"p":115,"r":"Yangon"},{"q":1.37,"p":115,"r":"Yangon"},{"q":1.78,"p":115,"r":"Yangon"},{"q":2.0,"p":116,"r":"Yangon"},{"q":2.5,"p":116,"r":"Yangon"},{"q":2.56,"p":113,"r":"Yangon"},{"q":3.0,"p":115,"r":"Yangon"},{"q":3.53,"p":116,"r":"Yangon"},{"q":4.0,"p":116,"r":"Yangon"},{"q":4.0,"p":112,"r":"Yangon"},
{"q":0.1,"p":108,"r":"Yangon"},{"q":0.33,"p":110,"r":"Yangon"},{"q":1.28,"p":110,"r":"Yangon"},{"q":1.67,"p":108,"r":"Yangon"},{"q":1.96,"p":106,"r":"Yangon"},{"q":2.5,"p":106,"r":"Yangon"},{"q":3.53,"p":110,"r":"Yangon"},{"q":5.0,"p":110,"r":"Yangon"},{"q":5.0,"p":105,"r":"Yangon"},{"q":5.24,"p":104,"r":"Yangon"},{"q":4.04,"p":105,"r":"Yangon"},
{"q":0.25,"p":100,"r":"Yangon"},{"q":0.55,"p":100,"r":"Yangon"},{"q":1.04,"p":100,"r":"Yangon"},{"q":1.49,"p":100,"r":"Yangon"},{"q":1.96,"p":99,"r":"Yangon"},{"q":2.5,"p":100,"r":"Yangon"},{"q":3.0,"p":100,"r":"Yangon"},{"q":3.53,"p":100,"r":"Yangon"},{"q":4.0,"p":100,"r":"Yangon"},{"q":5.0,"p":98.6,"r":"Yangon"},
{"q":0.03,"p":96,"r":"Yangon"},{"q":0.25,"p":96,"r":"Yangon"},{"q":0.6,"p":96,"r":"Yangon"},{"q":1.04,"p":96,"r":"Yangon"},{"q":1.5,"p":96,"r":"Yangon"},{"q":2.0,"p":97,"r":"Yangon"},{"q":2.56,"p":96,"r":"Yangon"},
{"q":0.03,"p":91,"r":"Yangon"},{"q":0.18,"p":89,"r":"Yangon"},{"q":0.33,"p":87,"r":"Yangon"},{"q":0.55,"p":84,"r":"Yangon"},{"q":0.77,"p":84,"r":"Yangon"},{"q":0.2,"p":84,"r":"Yangon"},{"q":3.0,"p":90,"r":"Yangon"},
{"q":12,"p":118,"r":"Yangon"},{"q":13,"p":120,"r":"Yangon"},{"q":15,"p":120,"r":"Yangon"},{"q":7.5,"p":110,"r":"Yangon"},{"q":7.5,"p":114,"r":"Yangon"},{"q":7.8,"p":115,"r":"Yangon"},{"q":9.0,"p":112,"r":"Yangon"},{"q":10,"p":110,"r":"Yangon"},{"q":10,"p":113,"r":"Yangon"},{"q":10,"p":100,"r":"Yangon"},{"q":10,"p":96,"r":"Yangon"},{"q":10.2,"p":104,"r":"Yangon"},{"q":10.5,"p":97,"r":"Yangon"},{"q":18,"p":110,"r":"Yangon"},{"q":20,"p":109.5,"r":"Yangon"},{"q":20,"p":111,"r":"Yangon"},{"q":20,"p":112.6,"r":"Yangon"},{"q":5.7,"p":115,"r":"Yangon"}
]
},
"columns":2,
"spacing":{"row":114,"column":82},
"bounds":"flush",
"concat":[
{"width":583,"height":372,
"title":"Distribution of Purchasing Prices",
"data":{"name":"hp"},
"mark":{"type":"rect","fill":"white","stroke":"#8e3b3e","strokeWidth":1.6},
"encoding":{
"x":{"field":"lo","type":"quantitative","scale":{"domain":[46.07,254.3],"nice":false,"zero":false},"axis":{"values":[50,100,150,200,250],"title":"Unit Price (MMK per lb)"}},
"x2":{"field":"hi"},
"y":{"field":"pct","type":"quantitative","scale":{"domain":[-0.63,20.57],"nice":false,"zero":false},"axis":{"values":[0,5,10,15,20],"title":"Percent"}},
"y2":{"datum":0}}},
{"width":582,"height":372,
"title":"Distribution of Purchasing Quantities",
"data":{"name":"hq"},
"mark":{"type":"rect","fill":"white","stroke":"#8e3b3e","strokeWidth":1.6},
"encoding":{
"x":{"field":"lo","type":"quantitative","scale":{"domain":[-0.446,25.536],"nice":false,"zero":false},"axis":{"values":[0,5,10,15,20,25],"title":"Quantity (per 500 tons)"}},
"x2":{"field":"hi"},
"y":{"field":"pct","type":"quantitative","scale":{"domain":[-1.25,41.14],"nice":false,"zero":false},"axis":{"values":[0,10,20,30,40],"title":"Percent"}},
"y2":{"datum":0}}},
{"width":583,"height":371,
"title":"Distribution of Purchasing Prices versus Quantities",
"data":{"name":"pts"},
"mark":{"type":"point","shape":"circle","filled":false,"size":28,"strokeWidth":1.35,"opacity":1,"color":"#d6ca94"},
"encoding":{
"x":{"field":"q","type":"quantitative","scale":{"domain":[-0.446,25.536],"nice":false,"zero":false},"axis":{"values":[0,5,10,15,20,25],"title":"Quantity (per 500 tons)"}},
"y":{"field":"p","type":"quantitative","scale":{"domain":[44.3,255.7],"nice":false,"zero":false},"axis":{"values":[50,100,150,200,250],"title":"Unit Price (MMK per lb)"}}}},
{"width":582,"height":329,
"title":"Distribution of Purchasing Prices versus Quantities",
"data":{"name":"pts"},
"mark":{"type":"point","shape":"circle","filled":false,"size":28,"strokeWidth":1.35,"opacity":1},
"encoding":{
"x":{"field":"q","type":"quantitative","scale":{"domain":[-0.446,25.536],"nice":false,"zero":false},"axis":{"values":[0,5,10,15,20,25],"title":"Quantity (per 500 tons)"}},
"y":{"field":"p","type":"quantitative","scale":{"domain":[42.86,256.5],"nice":false,"zero":false},"axis":{"values":[50,100,150,200,250],"title":"Unit Price (MMK per lb)"}},
"color":{"field":"r","type":"nominal","scale":{"domain":["Ayeyarwaddy","Bago","Yangon"],"range":["#d6ca94","#9fcfdf","#8c2a2e"]},"legend":{"orient":"none","legendX":797,"legendY":870,"direction":"horizontal","title":null}},
"order":{"field":"r","type":"nominal","sort":"ascending"}}}
],
"config":{
"font":"Liberation Sans",
"view":{"stroke":null},
"axis":{"domainColor":"#4d4d4d","domainWidth":1.3,"tickColor":"#4d4d4d","tickWidth":1.3,"tickSize":5,"labelFont":"Liberation Sans","labelFontSize":17,"labelColor":"#000000","titleFont":"Liberation Sans","titleFontSize":17,"titleFontWeight":"normal","titleColor":"#000000","grid":false,"labelFlush":false,"labelOverlap":false},
"axisY":{"grid":true,"gridColor":"#e6eef0","gridWidth":1.3,"labelAngle":-90,"labelAlign":"center","labelBaseline":"bottom","labelPadding":5,"titlePadding":4},
"axisX":{"labelPadding":4,"titlePadding":3},
"title":{"font":"Liberation Sans","fontSize":23,"fontWeight":"normal","color":"#1c2b55","offset":4,"anchor":"middle","frame":"group"},
"legend":{"strokeColor":"#222222","padding":7,"symbolType":"circle","symbolSize":20,"symbolStrokeWidth":1.2,"symbolOffset":-6,"labelFont":"Liberation Sans","labelFontSize":16.5,"labelColor":"#000000","columnPadding":22,"labelOffset":8}
}
}
